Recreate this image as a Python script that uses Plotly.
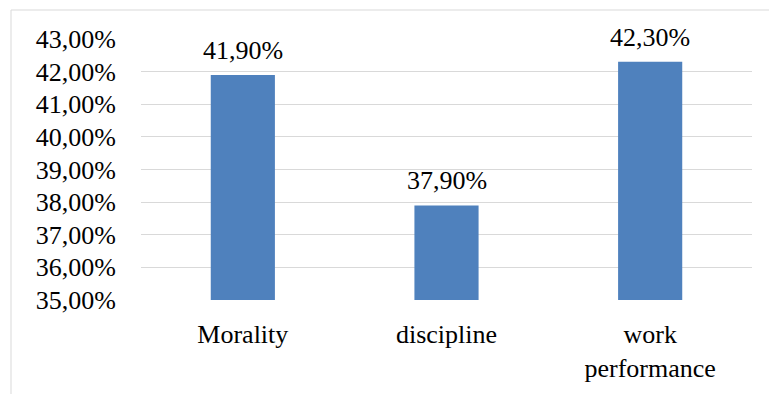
import plotly.graph_objects as go

categories = ["Morality", "discipline", "work<br>performance"]
values = [0.419, 0.379, 0.423]
y_ticks = [0.35, 0.36, 0.37, 0.38, 0.39, 0.40, 0.41, 0.42, 0.43]

W, H = 769, 394
ml, mr, mt, mb = 141, 17, 39, 94
pw = W - ml - mr
ph = H - mt - mb

font = dict(family="Liberation Serif, Times New Roman, serif", size=26, color="#000000")

fig = go.Figure(go.Bar(
    x=categories, y=values,
    marker=dict(color="#4F81BD", line=dict(width=0)),
    width=0.315,
))

# data labels above bars
for c, v in zip(categories, values):
    fig.add_annotation(x=c, y=v, text=f"{v*100:.2f}%".replace(".", ","),
                       showarrow=False, yanchor="bottom", yshift=8,
                       font=font)

# light chart-area border (left and top visible)
bx0 = (11 - ml) / pw
by1 = (H - mb - 10) / ph
fig.add_shape(type="rect", xref="paper", yref="paper",
              x0=bx0, x1=1.2, y0=-0.6, y1=by1,
              line=dict(color="#D9D9D9", width=1), layer="below")

fig.update_layout(
    width=W, height=H,
    margin=dict(l=ml, r=mr, t=mt, b=mb),
    paper_bgcolor="white", plot_bgcolor="white",
    separators=",.",
    font=font,
    showlegend=False,
)
fig.update_xaxes(showgrid=False, showline=False, ticks="", tickfont=font,
                 ticklabelstandoff=16)
fig.update_yaxes(range=[0.35, 0.43], tickvals=y_ticks, tickformat=".2%",
                 showgrid=True, gridcolor="#D9D9D9", gridwidth=1,
                 zeroline=False, showline=False, ticks="", tickfont=font,
                 ticklabelstandoff=24)

fig.write_html("out.html")
